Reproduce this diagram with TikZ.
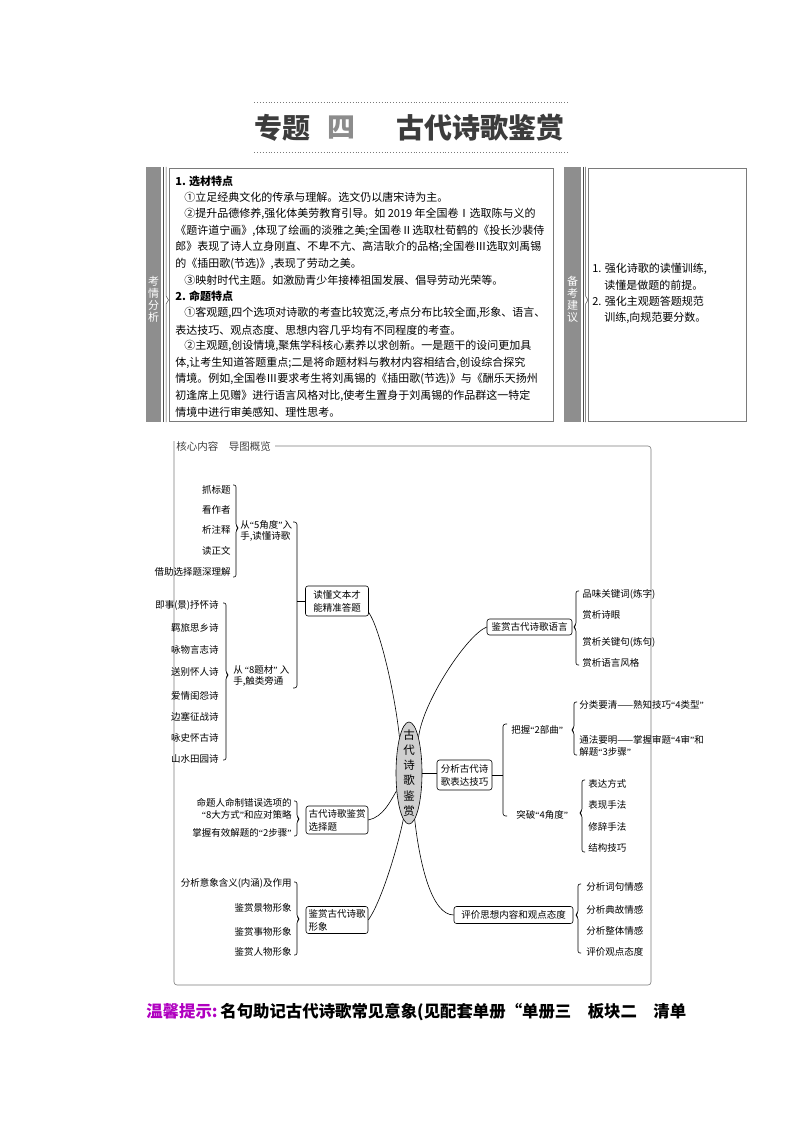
\documentclass[tikz,border=0pt]{standalone}
\usepackage{fontspec}
\setmainfont{Noto Sans CJK SC}
\newfontfamily\qfont{Liberation Serif}
\usepackage{xcolor}
\usetikzlibrary{shapes.geometric}
\definecolor{strip}{HTML}{8E8E8E}
\definecolor{frame}{HTML}{7A7A7A}
\definecolor{tipc}{HTML}{B000C0}
\definecolor{coregray}{HTML}{CFCFCF}
\definecolor{titlec}{HTML}{3C3C3C}
\newcommand{\mapfont}{\fontsize{9.5}{11.5}\selectfont}
\newcommand{\bodyfont}{\fontsize{11}{13}\selectfont}
\newcommand{\qo}{{\qfont “}}
\newcommand{\qc}{{\qfont ”}}
% brace "}" : x, top, nub, bottom
\newcommand{\closebr}[4]{\draw[rounded corners=2pt] (#1-3,#2) -- (#1,#2) -- (#1,#3-2) -- (#1+2.5,#3) -- (#1,#3+2) -- (#1,#4) -- (#1-3,#4);}
% brace "{" : x, top, nub, bottom
\newcommand{\openbr}[4]{\draw[rounded corners=2pt] (#1+3,#2) -- (#1,#2) -- (#1,#3-2) -- (#1-2.5,#3) -- (#1,#3+2) -- (#1,#4) -- (#1+3,#4);}
\tikzset{
  ln/.style={anchor=west, inner sep=0pt, font=\bodyfont},
  lf/.style={anchor=east, inner sep=0pt, font=\mapfont},
  rt/.style={anchor=west, inner sep=0pt, font=\mapfont},
  mbox/.style={draw, rounded corners=2.5pt, inner sep=2pt, align=left, font=\fontsize{9.5}{13}\selectfont},
}

\begin{document}
\begin{tikzpicture}[x=1pt, y=-1pt, line width=0.6pt]
  \useasboundingbox (0,0) rectangle (794,1123);

  % 标题
  \draw[frame, dotted, line width=0.9pt] (254,102) -- (570,102);
  \draw[frame, dotted, line width=0.9pt] (254,152) -- (570,152);
  \node[anchor=west, inner sep=0pt, font=\fontsize{28}{28}\bfseries, text=titlec] (zt) at (254,128) {专题};
  \node[anchor=west, inner sep=0pt, font=\fontsize{28}{28}\bfseries, text=black!45] (zs) at (327,128) {四};
  \node[anchor=west, inner sep=0pt, font=\fontsize{28}{28}\bfseries, text=titlec] (tt) at (396,128) {古代诗歌鉴赏};

  % 考情分析
  \fill[strip] (146,167) rectangle (161,422);
  \draw[black!70, line width=0.5pt] (163.5,167) -- (163.5,422);
  \draw[black!70, line width=0.5pt] (166,167) -- (166,296) -- (168.5,300) -- (166,304) -- (166,422);
  \draw[frame] (169,168) rectangle (553,421);
  \node[text=white, font=\fontsize{11}{12}\selectfont, align=center, inner sep=0pt] (kq) at (153.5,299) {考\\情\\分\\析};
  \node[ln, font=\bodyfont\bfseries] (a1) at (175,181) {1. 选材特点};
  \node[ln] (a2) at (184,197) {①立足经典文化的传承与理解。选文仍以唐宋诗为主。};
  \node[ln] (a3) at (184,214) {②提升品德修养,强化体美劳教育引导。如 2019 年全国卷Ⅰ选取陈与义的};
  \node[ln] (a4) at (175,231) {《题许道宁画》,体现了绘画的淡雅之美;全国卷Ⅱ选取杜荀鹤的《投长沙裴侍};
  \node[ln] (a5) at (175,247) {郎》表现了诗人立身刚直、不卑不亢、高洁耿介的品格;全国卷Ⅲ选取刘禹锡};
  \node[ln] (a6) at (175,264) {的《插田歌(节选)》,表现了劳动之美。};
  \node[ln] (a7) at (184,280) {③映射时代主题。如激励青少年接棒祖国发展、倡导劳动光荣等。};
  \node[ln, font=\bodyfont\bfseries] (b1) at (175,296) {2. 命题特点};
  \node[ln] (b2) at (184,313) {①客观题,四个选项对诗歌的考查比较宽泛,考点分布比较全面,形象、语言、};
  \node[ln] (b3) at (175,330) {表达技巧、观点态度、思想内容几乎均有不同程度的考查。};
  \node[ln] (b4) at (184,346) {②主观题,创设情境,聚焦学科核心素养以求创新。一是题干的设问更加具};
  \node[ln] (b5) at (175,363) {体,让考生知道答题重点;二是将命题材料与教材内容相结合,创设综合探究};
  \node[ln] (b6) at (175,379) {情境。例如,全国卷Ⅲ要求考生将刘禹锡的《插田歌(节选)》与《酬乐天扬州};
  \node[ln] (b7) at (175,396) {初逢席上见赠》进行语言风格对比,使考生置身于刘禹锡的作品群这一特定};
  \node[ln] (b8) at (175,412) {情境中进行审美感知、理性思考。};

  % 备考建议
  \fill[strip] (564,167) rectangle (581,422);
  \draw[black!70, line width=0.5pt] (583,167) -- (583,422);
  \draw[black!70, line width=0.5pt] (585.5,167) -- (585.5,296) -- (588,300) -- (585.5,304) -- (585.5,422);
  \draw[frame] (588,168) rectangle (746,421);
  \node[text=white, font=\fontsize{11}{12}\selectfont, align=center, inner sep=0pt] (bk) at (572.5,299) {备\\考\\建\\议};
  \node[ln] (c1) at (592,269) {1. 强化诗歌的读懂训练,};
  \node[ln] (c2) at (604,285) {读懂是做题的前提。};
  \node[ln] (c3) at (592,301) {2. 强化主观题答题规范};
  \node[ln] (c4) at (604,318) {训练,向规范要分数。};

  % 导图框
  \node[anchor=west, inner sep=0pt, font=\fontsize{10.5}{12}\selectfont, text=black!75] (hx) at (176,446) {核心内容　导图概览};
  \draw[frame, rounded corners=3pt] ([xshift=4pt]hx.east) -- (651,446) -- (651,985) -- (174,985) -- (174,441);

  % 中心
  \node[ellipse, draw, fill=coregray, minimum width=26pt, minimum height=102pt, inner sep=0pt] (core) at (409,773) {};
  \node[font=\fontsize{11.5}{15.2}\selectfont, align=center, inner sep=0pt] (coretx) at (core.center) {古\\代\\诗\\歌\\鉴\\赏};

  % 左侧分支
  \node[mbox, minimum width=63pt, minimum height=30pt] (rd) at (337,601) {读懂文本才\\能精准答题};
  \node[mbox, minimum width=62pt, minimum height=28pt] (xz) at (337,820) {古代诗歌鉴赏\\选择题};
  \node[mbox, minimum width=62pt, minimum height=27pt] (xx) at (337,920) {鉴赏古代诗歌\\形象};
  \draw (rd.-20) .. controls +(12,18) and +(-4,-40) .. (core.105);
  \draw (xz.east) .. controls +(15,-3) and +(-6,10) .. (core.235);
  \draw (xx.east) .. controls +(14,-20) and +(-5,25) .. (core.263);

  \coordinate (rdb) at (297,601);
  \draw[rounded corners=2.5pt] (293,522) -- (297,522) -- (297,688) -- (293,688);
  \draw (rdb) -- (rd.west);
  \node[rt, align=left] (l5) at (240,531) {从\qo 5角度\qc 入\\手,读懂诗歌};
  \node[rt, align=left] (l8) at (233,676) {从 \qo 8题材\qc\ 入\\手,触类旁通};

  \closebr{236}{485}{528}{577}
  \node[lf] (k1) at (231,490) {抓标题};
  \node[lf] (k2) at (231,510) {看作者};
  \node[lf] (k3) at (231,530) {析注释};
  \node[lf] (k4) at (231,551) {读正文};
  \node[lf] (k5) at (231,572) {借助选择题深理解};

  \closebr{226}{603}{675}{760}
  \node[lf] (s1) at (219,605) {即事(景)抒怀诗};
  \node[lf] (s2) at (219,628) {羁旅思乡诗};
  \node[lf] (s3) at (219,650) {咏物言志诗};
  \node[lf] (s4) at (219,672) {送别怀人诗};
  \node[lf] (s5) at (219,696) {爱情闺怨诗};
  \node[lf] (s6) at (219,717) {边塞征战诗};
  \node[lf] (s7) at (219,738) {咏史怀古诗};
  \node[lf] (s8) at (219,759) {山水田园诗};

  \closebr{297}{801}{819}{836}
  \node[lf, align=right] (z1) at (292,809) {命题人命制错误选项的\\\qo 8大方式\qc 和应对策略};
  \node[lf] (z2) at (292,833) {掌握有效解题的\qo 2步骤\qc};

  \closebr{297}{882}{919}{955}
  \node[lf] (x1) at (292,883) {分析意象含义(内涵)及作用};
  \node[lf] (x2) at (292,908) {鉴赏景物形象};
  \node[lf] (x3) at (292,932) {鉴赏事物形象};
  \node[lf] (x4) at (292,952) {鉴赏人物形象};

  % 右侧分支
  \node[mbox, minimum width=85pt, minimum height=16pt] (yy) at (529.5,627) {鉴赏古代诗歌语言};
  \node[mbox, minimum width=55pt, minimum height=30pt] (jq) at (464.5,775) {分析古代诗\\歌表达技巧};
  \node[mbox, minimum width=119pt, minimum height=17pt] (pj) at (513.5,915) {评价思想内容和观点态度};
  \draw (yy.west) .. controls +(-20,8) and +(4,-35) .. (core.75);
  \draw (core.east) -- (jq.west |- core.east);
  \draw (core.277) .. controls +(5,45) and +(-22,0) .. (pj.west);

  \openbr{576}{591}{627}{665}
  \node[rt] (y1) at (582,594) {品味关键词(炼字)};
  \node[rt] (y2) at (582,615) {赏析诗眼};
  \node[rt] (y3) at (582,642) {赏析关键句(炼句)};
  \node[rt] (y4) at (582,663) {赏析语言风格};

  \coordinate (jqb) at (503,775);
  \draw (jq.east) -- (jqb);
  \draw[rounded corners=2.5pt] (507,724) -- (503,724) -- (503,816) -- (507,816);
  \node[rt] (bw) at (511,730) {把握\qo 2部曲\qc};
  \node[rt] (tp) at (516,815) {突破\qo 4角度\qc};

  \openbr{574}{702}{730}{755}
  \node[rt] (w1) at (579,705) {分类要清——熟知技巧\qo 4类型\qc};
  \node[rt] (w2) at (579,740) {通法要明——掌握审题\qo 4审\qc 和};
  \node[rt] (w3) at (579,752) {解题\qo 3步骤\qc};

  \openbr{582}{780}{813}{852}
  \node[rt] (t1) at (588,784) {表达方式};
  \node[rt] (t2) at (588,805) {表现手法};
  \node[rt] (t3) at (588,827) {修辞手法};
  \node[rt] (t4) at (588,848) {结构技巧};

  \openbr{578}{884}{915}{953}
  \node[rt] (p1) at (586,887) {分析词句情感};
  \node[rt] (p2) at (586,910) {分析典故情感};
  \node[rt] (p3) at (586,931) {分析整体情感};
  \node[rt] (p4) at (586,952) {评价观点态度};

  % 温馨提示
  \node[anchor=west, inner sep=0pt, font=\fontsize{16.4}{16.4}\bfseries] (tip) at (146,1012) {\textcolor{tipc}{温馨提示:}\,名句助记古代诗歌常见意象(见配套单册“单册三　板块二　清单};
\end{tikzpicture}
\end{document}
